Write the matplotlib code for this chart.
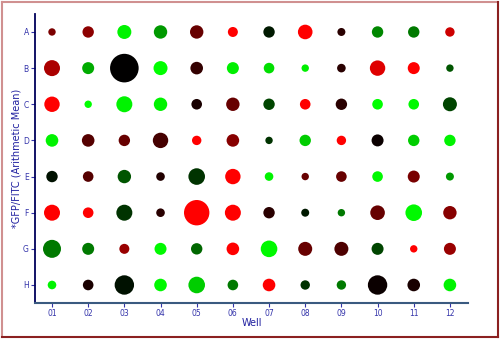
import numpy as np
import matplotlib.pyplot as plt
from matplotlib.colors import LinearSegmentedColormap
from matplotlib.lines import Line2D

rows = ["A", "B", "C", "D", "E", "F", "G", "H"]
wells = ["01", "02", "03", "04", "05", "06", "07", "08", "09", "10", "11", "12"]

# colour value: -1 = green, 0 = black, +1 = red
ratio_A = [0.48, 0.55, -0.95, -0.6, 0.4, 1.0, -0.1, 1.0, 0.16, -0.53, -0.47, 0.8]
ratio_B = [0.67, -0.67, 0.0, -1.0, 0.2, -0.93, -0.87, -0.93, 0.16, 0.87, 1.0, -0.33]
ratio_C = [1.0, -1.0, -0.95, -0.95, 0.1, 0.4, -0.27, 1.0, 0.16, -1.0, -0.97, -0.27]
ratio_D = [-0.95, 0.33, 0.4, 0.27, 1.0, 0.53, -0.2, -0.8, 1.0, 0.04, -0.8, -0.95]
ratio_E = [-0.07, 0.33, -0.33, 0.13, -0.2, 1.0, -0.95, 0.4, 0.4, -0.97, 0.47, -0.6]
ratio_F = [1.0, 1.0, -0.2, 0.16, 1.0, 1.0, 0.16, -0.1, -0.47, 0.4, -0.97, 0.53]
ratio_G = [-0.47, -0.47, 0.6, -0.97, -0.4, 1.0, -0.97, 0.4, 0.3, -0.27, 1.0, 0.6]
ratio_H = [-0.95, 0.1, -0.07, -0.97, -0.8, -0.47, 1.0, -0.2, -0.47, 0.04, 0.1, -0.95]

# bubble size (mean intensity, arbitrary units)
mean_A = [3.7, 5.7, 7.0, 6.7, 6.7, 5.0, 5.7, 7.3, 4.0, 5.7, 5.7, 4.7]
mean_B = [8.0, 6.0, 14.3, 7.0, 6.3, 6.0, 5.3, 3.7, 4.3, 7.7, 6.0, 3.7]
mean_C = [7.7, 3.7, 8.0, 6.7, 5.3, 6.7, 5.7, 5.3, 5.7, 5.3, 5.3, 7.0]
mean_D = [6.3, 6.3, 5.7, 7.7, 4.7, 6.3, 3.7, 5.7, 4.7, 6.0, 5.7, 5.7]
mean_E = [5.7, 5.3, 6.7, 4.3, 8.3, 7.7, 4.3, 3.7, 5.3, 5.3, 6.0, 4.0]
mean_F = [8.0, 5.3, 8.0, 4.3, 12.7, 8.0, 5.7, 4.0, 3.7, 7.3, 8.3, 6.7]
mean_G = [9.0, 6.0, 5.0, 6.0, 5.7, 6.3, 8.3, 7.0, 7.0, 6.0, 3.7, 6.0]
mean_H = [4.3, 5.3, 9.7, 6.3, 8.3, 5.3, 6.3, 4.7, 4.7, 9.7, 6.3, 6.3]

ratios = np.array([ratio_A, ratio_B, ratio_C, ratio_D, ratio_E, ratio_F, ratio_G, ratio_H])
means = np.array([mean_A, mean_B, mean_C, mean_D, mean_E, mean_F, mean_G, mean_H])

cmap = LinearSegmentedColormap.from_list("gkr", ["#00ff00", "#000000", "#ff0000"])

fig = plt.figure(figsize=(5, 3.39), dpi=100)
ax = fig.add_axes([0.07, 0.106, 0.866, 0.853])

xx, yy = np.meshgrid(np.arange(1, len(wells) + 1), np.arange(1, len(rows) + 1))
ax.scatter(xx.ravel(), yy.ravel(), s=(1.44 * means.ravel()) ** 2,
           c=ratios.ravel(), cmap=cmap, vmin=-1, vmax=1, linewidths=0)

ax.set_xlim(0.53, 12.5)
ax.set_ylim(8.5, 0.5)
ax.set_xticks(range(1, 13))
ax.set_xticklabels(wells)
ax.set_yticks(range(1, 9))
ax.set_yticklabels(rows)

for s in ["top", "right"]:
    ax.spines[s].set_visible(False)
ax.spines["left"].set_color("#00005a")
ax.spines["bottom"].set_color("#3a5a80")
ax.spines["left"].set_linewidth(1.3)
ax.spines["bottom"].set_linewidth(1.5)
ax.tick_params(axis="both", colors="#3333aa", labelsize=5.5, length=3, width=0.8)
ax.tick_params(axis="x", pad=1)
ax.tick_params(axis="y", pad=1.5)

ax.set_xlabel("Well", fontsize=7, color="#2020a0", labelpad=0)
ax.set_ylabel("*GFP/FITC (Arithmetic Mean)", fontsize=7, color="#2020a0", labelpad=1)

# frame around the picture
fig.add_artist(Line2D([0.003, 0.003], [0.005, 0.995], color="#d09090", lw=1.5))
fig.add_artist(Line2D([0.003, 0.996], [0.995, 0.995], color="#d09090", lw=1.5))
fig.add_artist(Line2D([0.996, 0.996], [0.005, 0.995], color="#8b2020", lw=1.5))
fig.add_artist(Line2D([0.003, 0.996], [0.006, 0.006], color="#8b2020", lw=1.5))

fig.savefig("out.png", dpi=100)
